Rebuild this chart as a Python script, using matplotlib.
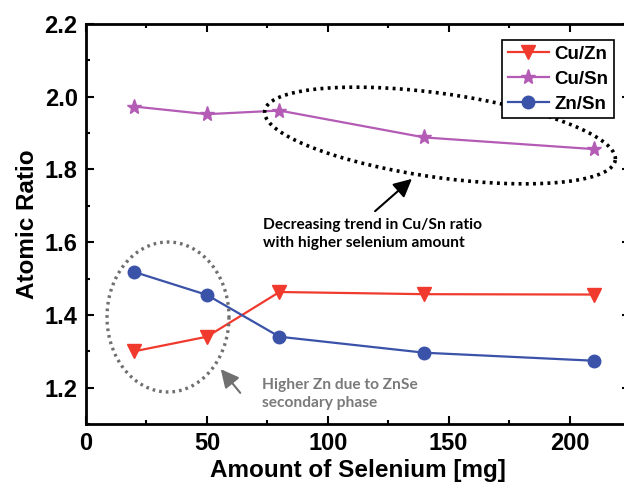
import numpy as np
import matplotlib
matplotlib.use("Agg")
import matplotlib.pyplot as plt

selenium = [20, 50, 80, 140, 210]
cu_zn = [1.30, 1.34, 1.463, 1.457, 1.456]
cu_sn = [1.973, 1.952, 1.962, 1.888, 1.856]
zn_sn = [1.518, 1.455, 1.340, 1.296, 1.274]

W, H, DPI = 624, 484, 100
fig = plt.figure(figsize=(W / DPI, H / DPI), dpi=DPI)
L, R, T, B = 86, 630, 24, 424
ax = fig.add_axes([L / W, 1 - B / H, (R - L) / W, (B - T) / H])
ax.set_xlim(0, 224.8)
ax.set_ylim(1.1, 2.2)

font = "Liberation Sans"
ax.plot(selenium, cu_zn, color="#f03a2e", lw=1.6, marker="v", ms=10, label="Cu/Zn")
ax.plot(selenium, cu_sn, color="#b35bb5", lw=1.6, marker="*", ms=11, label="Cu/Sn")
ax.plot(selenium, zn_sn, color="#3a52a8", lw=1.6, marker="o", ms=9, label="Zn/Sn")

ax.set_xticks([0, 50, 100, 150, 200])
ax.set_xticks([25, 75, 125, 175, 225], minor=True)
ax.set_yticks([1.2, 1.4, 1.6, 1.8, 2.0, 2.2])
ax.set_yticks([1.1, 1.3, 1.5, 1.7, 1.9, 2.1], minor=True)
ax.tick_params(which="both", direction="in", top=True, right=True, width=1.5, color="black")
ax.tick_params(which="major", length=6, labelsize=17, pad=6)
ax.tick_params(which="minor", length=3)
for lab in ax.get_xticklabels() + ax.get_yticklabels():
    lab.set_fontfamily(font)
    lab.set_fontweight("bold")
for s in ax.spines.values():
    s.set_linewidth(2)

ax.set_xlabel("Amount of Selenium [mg]", fontsize=17.5, fontweight="bold", fontfamily=font, labelpad=3)
ax.set_ylabel("Atomic Ratio", fontsize=17.5, fontweight="bold", fontfamily=font, labelpad=4)

leg = ax.legend(loc="upper left", bbox_to_anchor=((502 - L) / (R - L), 1 - (40 - T) / (B - T)),
                prop={"family": font, "weight": "bold", "size": 13.5},
                frameon=True, fancybox=False, framealpha=1, edgecolor="black",
                handlelength=2.2, handletextpad=0.3, borderpad=0.3, labelspacing=0.42,
                borderaxespad=0)
leg.get_frame().set_linewidth(1.2)

fig.canvas.draw()
inv = ax.transData.inverted()

def px2data(px, py):
    return inv.transform(np.column_stack([px, H - np.asarray(py)]))

def ellipse(cx, cy, a, b, ang_deg, color, lw):
    t = np.linspace(0, 2 * np.pi, 400)
    th = np.deg2rad(ang_deg)
    x = cx + a * np.cos(t) * np.cos(th) - b * np.sin(t) * np.sin(th)
    y = cy + a * np.cos(t) * np.sin(th) + b * np.sin(t) * np.cos(th)
    d = px2data(x, y)
    ax.plot(d[:, 0], d[:, 1], color=color, lw=lw, ls=(0, (0.8, 1.2)), clip_on=False)

ellipse(440, 135.5, 177, 42, 8, "black", 2.6)
ellipse(168, 317, 61, 75, 0, "#6f6f6f", 2.4)

def arrow(x0, y0, x1, y1, color):
    p0 = px2data([x0], [y0])[0]
    p1 = px2data([x1], [y1])[0]
    ax.annotate("", xy=p1, xytext=p0,
                arrowprops=dict(arrowstyle="-|>,head_length=1.1,head_width=0.55", color=color, lw=1.5))

arrow(373, 213, 414, 177, "black")
arrow(242, 395, 219, 367, "#707070")

tf = "Lato"
p = px2data([263], [234])[0]
ax.text(p[0], p[1], "Decreasing trend in Cu/Sn ratio\nwith higher selenium amount",
        fontsize=11.2, fontweight="bold", fontfamily=tf, color="black",
        ha="left", va="center", linespacing=1.3)
p = px2data([262], [394])[0]
ax.text(p[0], p[1], "Higher Zn due to ZnSe\nsecondary phase",
        fontsize=11.2, fontweight="bold", fontfamily=tf, color="#7a7a7a",
        ha="left", va="center", linespacing=1.3)

fig.savefig("out.png", dpi=DPI)
